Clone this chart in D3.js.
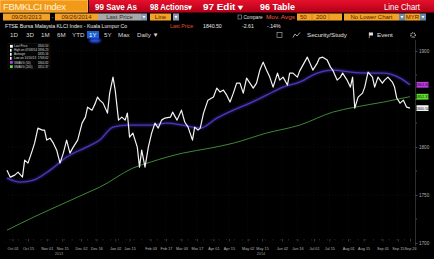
<!DOCTYPE html>
<html><head><meta charset="utf-8">
<script src="https://cdn.jsdelivr.net/npm/d3@7"></script>
<style>html,body{margin:0;padding:0;background:#000;overflow:hidden}svg{display:block}text{font-family:"Liberation Sans",Arial,sans-serif}</style>
</head><body><svg id="c" width="434" height="259"></svg>
<script>
// ---------- DATA ----------
const priceDates = ["2013-09-26","2013-09-29","2013-10-03","2013-10-06","2013-10-10","2013-10-12","2013-10-15","2013-10-19","2013-10-21","2013-10-24","2013-10-28","2013-10-30","2013-11-01","2013-11-04","2013-11-07","2013-11-10","2013-11-13","2013-11-16","2013-11-19","2013-11-22","2013-11-25","2013-11-29","2013-12-03","2013-12-06","2013-12-08","2013-12-12","2013-12-15","2013-12-17","2013-12-19","2013-12-22","2013-12-26","2013-12-28","2013-12-31","2014-01-02","2014-01-05","2014-01-08","2014-01-11","2014-01-13","2014-01-15","2014-01-18","2014-01-22","2014-01-24","2014-01-26","2014-01-29","2014-02-01","2014-02-04","2014-02-07","2014-02-10","2014-02-13","2014-02-16","2014-02-21","2014-02-23","2014-02-27","2014-03-03","2014-03-06","2014-03-09","2014-03-13","2014-03-15","2014-03-18","2014-03-20","2014-03-23","2014-03-27","2014-04-01","2014-04-04","2014-04-07","2014-04-10","2014-04-13","2014-04-16","2014-04-19","2014-04-22","2014-04-25","2014-04-28","2014-05-01","2014-05-04","2014-05-07","2014-05-10","2014-05-13","2014-05-16","2014-05-19","2014-05-22","2014-05-25","2014-05-29","2014-05-31","2014-06-03","2014-06-07","2014-06-09","2014-06-12","2014-06-16","2014-06-18","2014-06-21","2014-06-25","2014-06-27","2014-06-30","2014-07-04","2014-07-06","2014-07-09","2014-07-13","2014-07-16","2014-07-18","2014-07-22","2014-07-25","2014-07-27","2014-07-31","2014-08-03","2014-08-05","2014-08-07","2014-08-10","2014-08-14","2014-08-16","2014-08-19","2014-08-23","2014-08-25","2014-08-28","2014-09-01","2014-09-03","2014-09-06","2014-09-10","2014-09-12","2014-09-14","2014-09-17","2014-09-20","2014-09-23","2014-09-26"];
const priceValues = [1775.9,1768.6,1770.7,1773.8,1768.6,1786.3,1783.2,1796.7,1804.0,1819.7,1817.6,1817.6,1807.2,1809.2,1804.0,1796.7,1783.2,1793.6,1807.2,1793.6,1799.9,1807.2,1824.9,1831.1,1841.5,1838.4,1845.7,1852.0,1848.8,1845.7,1835.3,1856.1,1872.8,1859.3,1828.0,1831.1,1828.0,1835.3,1810.3,1814.5,1799.9,1779.0,1796.7,1779.0,1799.9,1814.5,1824.9,1819.7,1828.0,1830.1,1831.1,1836.3,1828.0,1838.4,1826.0,1820.7,1807.2,1820.7,1817.6,1819.7,1835.3,1848.8,1852.0,1861.3,1857.2,1859.3,1854.0,1846.8,1856.1,1866.5,1866.5,1856.1,1871.8,1866.5,1861.3,1866.5,1880.1,1888.4,1880.1,1872.8,1862.4,1877.0,1869.7,1872.8,1864.5,1877.0,1877.0,1872.8,1879.0,1885.3,1893.6,1888.4,1880.1,1887.4,1892.6,1893.6,1890.5,1883.2,1880.1,1869.7,1872.8,1877.0,1869.7,1862.4,1872.8,1840.5,1852.0,1856.1,1862.4,1878.0,1872.8,1862.4,1872.8,1866.5,1869.7,1872.8,1867.6,1862.4,1851.0,1845.7,1848.8,1841.5,1840.5];
const ma50Dates = ["2013-09-26","2013-10-08","2013-10-20","2013-11-04","2013-11-19","2013-12-07","2013-12-19","2013-12-31","2014-01-13","2014-02-03","2014-02-18","2014-03-04","2014-03-20","2014-04-04","2014-04-19","2014-05-04","2014-05-19","2014-06-03","2014-06-18","2014-07-04","2014-07-18","2014-08-03","2014-08-18","2014-09-02","2014-09-17","2014-09-26"];
const ma50Values = [1767.6,1763.4,1765.5,1775.9,1789.5,1799.9,1807.2,1820.7,1822.8,1822.8,1824.9,1822.8,1819.7,1830.1,1838.4,1845.7,1854.0,1862.4,1867.6,1877.0,1880.1,1878.0,1877.0,1877.0,1871.8,1864.8];
const ma200Dates = ["2013-09-26","2013-10-20","2013-11-19","2013-12-13","2013-12-19","2014-01-18","2014-02-03","2014-02-18","2014-03-04","2014-03-29","2014-04-19","2014-05-19","2014-06-18","2014-07-18","2014-08-07","2014-09-02","2014-09-26"];
const ma200Values = [1713.4,1726.9,1742.6,1755.1,1758.2,1778.0,1784.3,1789.5,1793.6,1798.8,1804.0,1814.5,1822.8,1836.3,1841.5,1846.8,1852.4];
const yTickValues = [1700,1750,1800,1850,1900];
const yLabelValues = [1700,1750,1800,1900];
const yMinorValues = [1725,1775,1825,1875];
const xLabelDates = ["2013-10-01","2013-10-15","2013-11-01","2013-11-15","2013-12-02","2013-12-16","2014-01-02","2014-01-15","2014-02-03","2014-02-17","2014-03-03","2014-03-17","2014-04-01","2014-04-15","2014-05-02","2014-05-15","2014-06-02","2014-06-16","2014-07-01","2014-07-15","2014-08-01","2014-08-15","2014-09-01","2014-09-15","2014-09-26"];
const yearLabels = ["2013","2014"];
const yearCenters = ["2013-11-12","2014-05-14"];
const legendLabels = ["Last Price","High on 07/08/14","Average","Low on 10/10/13","SMAVG (50)","SMAVG (200)"];
const legendValues = ["1840.50","1896.23","1835.16","1768.62","1864.82","1852.37"];
const legendColors = ["#ffffff","#ffffff","#ffffff","#ffffff","#b53be6","#5ee03a"];
const tagValues = [1864.82,1852.37,1840.50];
const tagColors = ["#c23be8","#5fe02c","#f2f2f2"];

// ---------- SETUP ----------
const svg = d3.select("#c");
const parse = d3.timeParse("%Y-%m-%d");
const W = 434, H = 259;
const defs = svg.append("defs");
svg.append("rect").attr("width",W).attr("height",H).attr("fill","#000");

const x = d3.scaleTime().domain([parse("2013-09-26"), parse("2014-09-26")]).range([7, 410]);
const y = d3.scaleLinear().domain([1700,1900]).range([243,51]);

// ---------- HEADER ----------
const hdr = svg.append("g");
const redGrad = defs.append("linearGradient").attr("id","rg").attr("x1",0).attr("x2",0).attr("y1",0).attr("y2",1);
redGrad.append("stop").attr("offset","0%").attr("stop-color","#e8102c");
redGrad.append("stop").attr("offset","100%").attr("stop-color","#b00018");
hdr.append("rect").attr("x",89).attr("y",0).attr("width",345).attr("height",12.5).attr("fill","url(#rg)");
hdr.append("rect").attr("x",0).attr("y",0).attr("width",88).attr("height",12.5).attr("fill","#f29a18");
hdr.append("rect").attr("x",0.5).attr("y",0.5).attr("width",87).attr("height",11.5).attr("fill","none").attr("stroke","#ffc060").attr("stroke-width",0.6);
hdr.append("text").attr("x",3).attr("y",10).attr("font-size",9.5).attr("fill","#fff2d8").attr("textLength",63).text("FBMKLCI Index");
const r1 = [["99 Save As",95,42],["98 Actions▾",150,42],["97 Edit ▾",203,40],["96 Table",260,35]];
r1.forEach(d=>hdr.append("text").attr("x",d[1]).attr("y",9.6).attr("font-size",8.2).attr("font-weight","bold").attr("fill","#ffffff").attr("textLength",d[2]).attr("lengthAdjust","spacingAndGlyphs").text(d[0]));
hdr.append("text").attr("x",384).attr("y",9.6).attr("font-size",8.2).attr("fill","#ffffff").attr("textLength",36).attr("lengthAdjust","spacingAndGlyphs").text("Line Chart");

// Row 2
function box(x0,w,fill,txt,tc,fs){
  hdr.append("rect").attr("x",x0).attr("y",13.5).attr("width",w).attr("height",7).attr("fill",fill);
  if(txt) hdr.append("text").attr("x",x0+w/2).attr("y",19.3).attr("text-anchor","middle").attr("font-size",fs||6).attr("fill",tc||"#3a1800").text(txt);
}
function dd(x0,fill){
  hdr.append("rect").attr("x",x0).attr("y",13.5).attr("width",6).attr("height",7).attr("fill",fill||"#6a7c96");
  hdr.append("path").attr("d",`M${x0+1.5},${16} L${x0+4.5},${16} L${x0+3},${18.5}Z`).attr("fill","#fff");
}
box(3,47,"#f2a228","09/26/2013","#5a2000");
hdr.append("text").attr("x",52.5).attr("y",19).attr("text-anchor","middle").attr("font-size",6).attr("fill","#ccc").text("-");
box(55,43,"#f2a228","09/26/2014","#5a2000");
box(98,43,"#a8a8a8","Last Price","#303030");
dd(141,"#8898b0");
box(150,21,"#f2a228","Line","#5a2000");
dd(173,"#8898b0");
hdr.append("rect").attr("x",238).attr("y",15).attr("width",3.5).attr("height",4).attr("fill","none").attr("stroke","#9ab").attr("stroke-width",0.6);
hdr.append("text").attr("x",243.5).attr("y",19.3).attr("font-size",5.8).attr("fill","#e0e0e0").attr("textLength",19).attr("lengthAdjust","spacingAndGlyphs").text("Compare");
hdr.append("text").attr("x",266).attr("y",19.3).attr("font-size",5.8).attr("fill","#ff5a3c").attr("textLength",29).attr("lengthAdjust","spacingAndGlyphs").text("Mov. Avgs");
box(297,45,"#f2a228",null);
hdr.append("text").attr("x",300).attr("y",19.3).attr("font-size",6).attr("fill","#5a2000").text("50");
hdr.append("line").attr("x1",312).attr("x2",312).attr("y1",13.5).attr("y2",20.5).attr("stroke","#c07010").attr("stroke-width",0.6);
hdr.append("text").attr("x",316).attr("y",19.3).attr("font-size",6).attr("fill","#5a2000").text("200");
hdr.append("line").attr("x1",329).attr("x2",329).attr("y1",13.5).attr("y2",20.5).attr("stroke","#c07010").attr("stroke-width",0.6);
box(344,55,"#f2a228","No Lower Chart","#5a2000");
dd(399,"#6a8aa8");
box(405,15,"#f2a228","MYR","#5a2000");
dd(420,"#6a8aa8");

// Row 3
hdr.append("text").attr("x",5).attr("y",28).attr("font-size",5.2).attr("fill","#e8e8e8").text("FTSE Bursa Malaysia KLCI Index - Kuala Lumpur Co");
hdr.append("text").attr("x",170).attr("y",28).attr("font-size",5.2).attr("fill","#e0502a").text("Last Price");
hdr.append("text").attr("x",203).attr("y",28).attr("font-size",5.2).attr("fill","#e8e8e8").text("1840.50");
hdr.append("text").attr("x",242).attr("y",28).attr("font-size",5.2).attr("fill","#e8e8e8").text("-2.61");
hdr.append("text").attr("x",267).attr("y",28).attr("font-size",5.2).attr("fill","#e8e8e8").text("-.14%");

// Row 4
hdr.append("rect").attr("x",87).attr("y",31).attr("width",12).attr("height",7.5).attr("fill","#1b5fd0");
const r4 = [["1D",10],["3D",26],["1M",41],["6M",57],["YTD",72],["1Y",89],["5Y",104],["Max",118],["Daily ▼",137]];
r4.forEach(d=>hdr.append("text").attr("x",d[1]).attr("y",37.3).attr("font-size",6.2).attr("fill", d[0]==="1Y"?"#ffffff":"#d8d8d8").text(d[0]));
hdr.append("rect").attr("x",277).attr("y",32.5).attr("width",5).attr("height",5).attr("fill","none").attr("stroke","#bbb").attr("stroke-width",0.6);
hdr.append("path").attr("d","M293,37.5 L295,34 L297,36 L300,32.5").attr("fill","none").attr("stroke","#ccc").attr("stroke-width",0.8);
hdr.append("text").attr("x",307).attr("y",37.3).attr("font-size",6.2).attr("fill","#e0e0e0").text("Security/Study");
hdr.append("rect").attr("x",369).attr("y",32.5).attr("width",4).attr("height",3).attr("fill","#ddd");
hdr.append("line").attr("x1",369.3).attr("x2",369.3).attr("y1",32.5).attr("y2",38).attr("stroke","#ddd").attr("stroke-width",0.6);
hdr.append("text").attr("x",377).attr("y",37.3).attr("font-size",6.2).attr("fill","#e0e0e0").text("Event");
hdr.append("circle").attr("cx",413).attr("cy",35).attr("r",2.2).attr("fill","none").attr("stroke","#ccc").attr("stroke-width",1.2).attr("stroke-dasharray","1,0.7");

// ---------- PLOT ----------
const plot = svg.append("g");
plot.selectAll(".hg").data(yTickValues).join("line")
  .attr("x1",5).attr("x2",415).attr("y1",d=>y(d)).attr("y2",d=>y(d))
  .attr("stroke","#1a1a1a").attr("stroke-width",0.5).attr("stroke-dasharray","1,2");
plot.selectAll(".vg").data(xLabelDates).join("line")
  .attr("x1",d=>x(parse(d))).attr("x2",d=>x(parse(d))).attr("y1",42).attr("y2",239)
  .attr("stroke","#141414").attr("stroke-width",0.5).attr("stroke-dasharray","1,2");

const blur = defs.append("filter").attr("id","glow").attr("x","-50%").attr("y","-50%").attr("width","200%").attr("height","200%");
blur.append("feGaussianBlur").attr("stdDeviation",1.2);
plot.append("ellipse").attr("cx",95).attr("cy",40.5).attr("rx",6).attr("ry",2).attr("fill","#2a56ff").attr("filter","url(#glow)");

const toPts = (ds,vs)=>ds.map((d,i)=>({date:parse(d),v:vs[i]}));
const ma200 = toPts(ma200Dates, ma200Values);
const ma50 = toPts(ma50Dates, ma50Values);
const price = toPts(priceDates, priceValues);
const smooth = d3.line().x(d=>x(d.date)).y(d=>y(d.v)).curve(d3.curveMonotoneX);

plot.append("path").datum(ma200).attr("d",smooth)
  .attr("fill","none").attr("stroke","#3c8a36").attr("stroke-width",1);
plot.append("path").datum(ma50).attr("d",smooth)
  .attr("fill","none").attr("stroke","#3a2a9a").attr("stroke-width",3).attr("opacity",0.55).attr("filter","url(#glow)");
plot.append("path").datum(ma50).attr("d",smooth)
  .attr("fill","none").attr("stroke","#4a38b8").attr("stroke-width",1.3);
plot.append("path").datum(price).attr("d",d3.line().x(d=>x(d.date)).y(d=>y(d.v)))
  .attr("fill","none").attr("stroke","#f4f4f4").attr("stroke-width",1.2).attr("stroke-linejoin","round");

// right axis
plot.append("line").attr("x1",415.5).attr("x2",415.5).attr("y1",40).attr("y2",246).attr("stroke","#3a3a3a").attr("stroke-width",0.8);
const yAxis = d3.axisRight(y).tickValues(yTickValues).tickSize(2).tickFormat(d=>yLabelValues.includes(d)?d3.format("d")(d):"");
const ya = plot.append("g").attr("transform","translate(415.5,0)").call(yAxis);
ya.select(".domain").remove();
ya.selectAll("line").attr("stroke","#888").attr("stroke-width",0.5);
ya.selectAll("text").attr("font-size",4.6).attr("fill","#b0b0b0").attr("x",3.5);
plot.selectAll(".ym").data(yMinorValues).join("circle").attr("cx",416.5).attr("cy",d=>y(d)).attr("r",0.5).attr("fill","#666");

// tags
const tg = plot.selectAll(".tag").data(tagValues).join("g").attr("transform",d=>`translate(416.5,${y(d)})`);
tg.append("rect").attr("x",0).attr("y",-2.9).attr("width",12).attr("height",5.8).attr("fill",(d,i)=>tagColors[i]);
tg.append("text").attr("x",6).attr("y",1.5).attr("text-anchor","middle").attr("font-size",3.8).attr("fill","#111").text(d=>d3.format(".2f")(d));

// x axis
const xAxis = d3.axisBottom(x).tickValues(xLabelDates.map(parse)).tickSize(2.5).tickFormat(d3.timeFormat("%b %d"));
const xa = plot.append("g").attr("transform","translate(0,239)").call(xAxis);
xa.select(".domain").remove();
xa.selectAll("line").attr("stroke","#777").attr("stroke-width",0.5);
xa.selectAll("text").attr("font-size",3.8).attr("fill","#b8b8b8").attr("y",8);
plot.selectAll(".wk").data(d3.timeWeek.range(parse("2013-09-26"),parse("2014-09-26"))).join("line")
  .attr("x1",d=>x(d)).attr("x2",d=>x(d)).attr("y1",239).attr("y2",240.5).attr("stroke","#555").attr("stroke-width",0.4);
plot.selectAll(".yr").data(yearLabels).join("text").attr("x",(d,i)=>x(parse(yearCenters[i]))).attr("y",254.5)
  .attr("text-anchor","middle").attr("font-size",3.8).attr("fill","#999").text(d=>d);

// legend
const lg = plot.append("g");
lg.append("rect").attr("x",8).attr("y",43.5).attr("width",42).attr("height",25.5).attr("fill","#050505").attr("stroke","#222").attr("stroke-width",0.4);
const ly = [46.3,50.3,54.3,58.3,62.4,66.6];
const li = lg.selectAll(".li").data(legendLabels).join("g").attr("transform",(d,i)=>`translate(10,${ly[i]})`);
li.append("rect").attr("x",0).attr("y",-1.4).attr("width",(d,i)=>i===0||i>3?2.8:1.6).attr("height",2.8).attr("fill",(d,i)=>legendColors[i]);
li.append("text").attr("x",4).attr("y",1.1).attr("font-size",3).attr("fill","#d8d8d8").text(d=>d);
li.append("text").attr("x",38.5).attr("y",1.1).attr("text-anchor","end").attr("font-size",3).attr("fill","#d8d8d8").text((d,i)=>legendValues[i]);
</script></body></html>
